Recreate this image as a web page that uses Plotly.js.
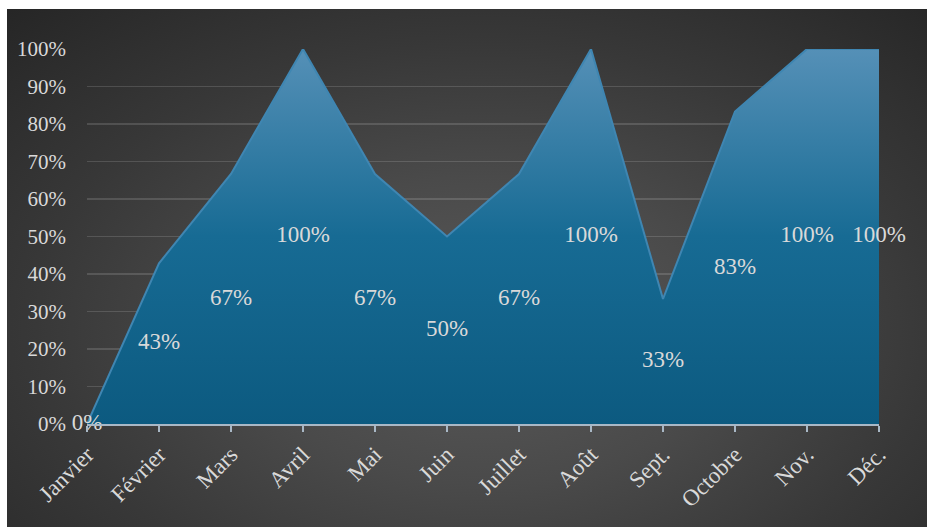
<!DOCTYPE html>
<html>
<head>
<meta charset="utf-8">
<script src="https://cdn.plot.ly/plotly-3.0.1.min.js"></script>
<style>
  html, body { margin: 0; padding: 0; background: #ffffff; }
  #bg { position: absolute; left: 7px; top: 9px; width: 920px; height: 518px;
        background: radial-gradient(ellipse 75% 85% at 52% 62%, #5a5a5a 0%, #4a4a4a 35%, #383838 65%, #262626 100%); }
  #chart { position: absolute; left: 0; top: 0; width: 927px; height: 527px; }
</style>
</head>
<body>
<div id="bg"></div>
<div id="chart"></div>
<script>
const months = ["Janvier", "Février", "Mars", "Avril", "Mai", "Juin", "Juillet", "Août", "Sept.", "Octobre", "Nov.", "Déc."];
const rates = [0, 0.4286, 0.6667, 1.0, 0.6667, 0.5, 0.6667, 1.0, 0.3333, 0.8333, 1.0, 1.0];
const yTickVals = [0, 0.1, 0.2, 0.3, 0.4, 0.5, 0.6, 0.7, 0.8, 0.9, 1.0];
const yTickText = ["0%", "10%", "20%", "30%", "40%", "50%", "60%", "70%", "80%", "90%", "100%"];

const FONT = "Liberation Serif, DejaVu Serif, serif";
const idx = months.map((m, i) => i);

const area = {
  type: "scatter",
  x: idx,
  y: rates,
  mode: "lines",
  fill: "tozeroy",
  fillgradient: {
    type: "vertical",
    colorscale: [[0, "#0c5a80"], [0.5, "#176b94"], [1, "#5590b7"]]
  },
  line: { color: "#3f86b2", width: 2 },
  hoverinfo: "skip",
  showlegend: false
};

const labels = {
  type: "scatter",
  x: idx,
  y: rates.map(v => v / 2),
  mode: "text",
  text: rates.map(v => Math.round(v * 100) + "%"),
  textposition: "middle center",
  textfont: { family: FONT, size: 23, color: "#d9d9d9" },
  cliponaxis: false,
  hoverinfo: "skip",
  showlegend: false
};

const layout = {
  width: 927,
  height: 527,
  margin: { l: 87, r: 48, t: 49, b: 103 },
  paper_bgcolor: "rgba(0,0,0,0)",
  plot_bgcolor: "rgba(0,0,0,0)",
  font: { family: FONT, size: 20, color: "#d9d9d9" },
  xaxis: {
    range: [0, 11],
    tickvals: idx,
    ticktext: months,
    tickangle: -45,
    showgrid: false,
    zeroline: false,
    showline: true,
    linecolor: "#a9b8c6",
    linewidth: 2,
    ticks: "outside",
    ticklen: 6,
    tickwidth: 2,
    tickcolor: "#a9b8c6",
    tickfont: { family: FONT, size: 23, color: "#d9d9d9" },
    fixedrange: true
  },
  yaxis: {
    range: [0, 1],
    tickvals: yTickVals,
    ticktext: yTickText,
    showgrid: true,
    gridcolor: "rgba(255,255,255,0.14)",
    gridwidth: 1.5,
    zeroline: false,
    showline: false,
    ticks: "",
    ticklabelstandoff: 20,
    tickfont: { family: FONT, size: 21, color: "#d9d9d9" },
    fixedrange: true
  }
};

Plotly.newPlot("chart", [area, labels], layout, { displayModeBar: false, staticPlot: true });
</script>
</body>
</html>
